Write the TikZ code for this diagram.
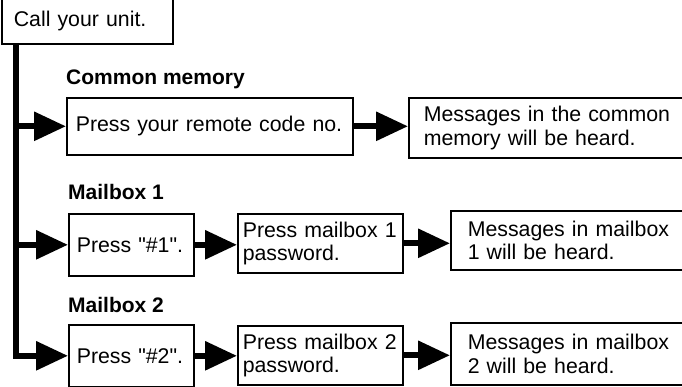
\documentclass[tikz,border=0pt]{standalone}
\usepackage{fontspec}
\setmainfont{Liberation Sans}[Ligatures=TeXOff]
\usetikzlibrary{arrows.meta}
\tikzset{
  stepbox/.style={draw, line width=1.6pt, anchor=north west, align=left,
    inner ysep=0pt, font=\fontsize{21.3}{23.5}\selectfont},
  lbl/.style={anchor=west, inner sep=0pt, font=\bfseries\fontsize{21}{23}\selectfont},
  flow/.style={line width=6pt, -{Triangle[length=32pt,width=28pt]}},
}
\begin{document}
\begin{tikzpicture}[x=1pt,y=-1pt]
\useasboundingbox (0,0) rectangle (682,387);
\node[stepbox, inner xsep=12pt, text width=147pt, minimum height=45pt] (call) at (1,-2) {Call your unit.};
\coordinate (spine) at (15.5,43);
% common memory
\node[lbl] (lcommon) at (66,79) {Common memory};
\node[stepbox, inner xsep=9pt, text width=268pt, minimum height=57pt] (remote) at (66,97) {Press your remote code no.};
\node[stepbox, inner xsep=15pt, text width=258pt, minimum height=60pt] (hearcommon) at (408,97) {Messages in the common\\memory will be heard.};
% mailbox 1
\node[lbl] (lbox1) at (68,192) {Mailbox 1};
\node[stepbox, inner xsep=8pt, text width=109pt, minimum height=62pt] (hash1) at (68,213) {Press "\#1".};
\node[stepbox, inner xsep=5pt, text width=155pt, minimum height=59pt] (pass1) at (237,213) {Press mailbox 1\\password.};
\node[stepbox, inner xsep=17pt, text width=210pt, minimum height=59pt] (hear1) at (450,210) {Messages in mailbox\\1 will be heard.};
% mailbox 2
\node[lbl] (lbox2) at (68,305) {Mailbox 2};
\node[stepbox, inner xsep=8pt, text width=109pt, minimum height=62pt] (hash2) at (68,324) {Press "\#2".};
\node[stepbox, inner xsep=5pt, text width=155pt, minimum height=59pt] (pass2) at (237,325) {Press mailbox 2\\password.};
\node[stepbox, inner xsep=17pt, text width=210pt, minimum height=62pt] (hear2) at (450,322) {Messages in mailbox\\2 will be heard.};
% arrows
\draw[flow] (spine) |- (hash2.west);
\draw[flow] (spine |- remote.west) -- (remote.west);
\draw[flow] (spine |- hash1.west) -- (hash1.west);
\draw[flow] (remote.east) -- (remote.east -| hearcommon.west);
\draw[flow] (hash1.east) -- (hash1.east -| pass1.west);
\draw[flow] (pass1.east) -- (pass1.east -| hear1.west);
\draw[flow] (hash2.east) -- (hash2.east -| pass2.west);
\draw[flow] (pass2.east) -- (pass2.east -| hear2.west);
\end{tikzpicture}
\end{document}
